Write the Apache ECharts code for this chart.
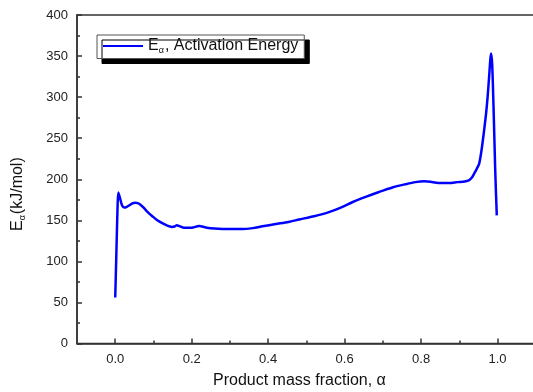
<!DOCTYPE html>
<html>
<head>
<meta charset="utf-8">
<script src="https://cdn.jsdelivr.net/npm/echarts@6/dist/echarts.min.js"></script>
<style>html,body{margin:0;padding:0;background:#fff}#c{width:533px;height:392px}</style>
</head>
<body>
<div id="c"></div>
<script>
// Data
const alpha = [0.000, 0.003, 0.006, 0.008, 0.012, 0.018, 0.024, 0.029, 0.036, 0.045, 0.052, 0.059, 0.066, 0.075, 0.085, 0.097, 0.110, 0.123, 0.136, 0.148, 0.155, 0.161, 0.168, 0.180, 0.200, 0.219, 0.240, 0.260, 0.280, 0.300, 0.332, 0.360, 0.385, 0.420, 0.453, 0.481, 0.520, 0.559, 0.590, 0.620, 0.655, 0.690, 0.725, 0.760, 0.785, 0.808, 0.825, 0.839, 0.856, 0.874, 0.895, 0.910, 0.917, 0.926, 0.933, 0.939, 0.946, 0.952, 0.958, 0.965, 0.970, 0.974, 0.978, 0.981, 0.983, 0.986, 0.990, 0.994, 0.998];
const energy = [56, 110, 165, 184, 178, 168, 165.5, 166, 168, 170.5, 171.5, 171, 169, 165, 160, 155, 150, 146.5, 143.5, 142, 142.5, 144, 143, 141, 141, 143, 141, 140, 139.5, 139.4, 139.4, 140.5, 142.7, 145.5, 148, 151, 155, 160, 165.5, 172, 178.5, 184.5, 190, 194, 196.5, 197.6, 197, 195.8, 195.5, 195.5, 196.5, 197, 197.6, 199, 202, 207, 213, 219, 235, 260, 280, 300, 325, 345, 353, 340, 280, 210, 156];
const seriesName = 'Eα, Activation Energy';
const xMajor = [0, 0.2, 0.4, 0.6, 0.8, 1.0, 1.2];
const xMinor = [0.1, 0.3, 0.5, 0.7, 0.9, 1.1];

const chart = echarts.init(document.getElementById('c'), null, {renderer: 'canvas'});
const FONT = 'Liberation Sans, Arial, sans-serif';
const axisCol = '#333';
const data = alpha.map((a, i) => [a, energy[i]]);

chart.setOption({
  animation: false,
  backgroundColor: '#fff',
  grid: {left: 77, top: 15, width: 497, height: 328.5, outerBoundsMode: 'none', containLabel: false,
    show: true, borderColor: axisCol, borderWidth: 1.5, backgroundColor: 'transparent'},
  legend: {
    show: true,
    left: 97, top: 35,
    orient: 'vertical',
    itemWidth: 40, itemHeight: 14,
    padding: [3, 6, 3, 6],
    backgroundColor: '#fff',
    borderColor: '#555', borderWidth: 1, borderRadius: 0,
    shadowColor: '#000', shadowBlur: 0, shadowOffsetX: 5, shadowOffsetY: 5,
    formatter: function () { return '{e|E}{s|α}{e|, Activation Energy}'; },
    textStyle: {
      fontFamily: FONT, color: '#111',
      rich: {
        e: {fontSize: 16, fontFamily: FONT, color: '#111'},
        s: {fontSize: 9, fontFamily: FONT, color: '#111', padding: [10, 1, 0, 0]}
      }
    },
    data: [{name: seriesName, icon: 'path://M0,0L40,0L40,2L0,2Z'}]
  },
  xAxis: [{
    type: 'value', min: -0.1, max: 1.2,
    axisLine: {show: true, onZero: false, lineStyle: {color: axisCol, width: 1.5}},
    axisTick: {show: true, inside: true, length: 5, customValues: xMajor, lineStyle: {color: axisCol, width: 1.5}},
    axisLabel: {show: true, customValues: xMajor, margin: 9, fontFamily: FONT, fontSize: 13, color: '#222',
      formatter: v => v.toFixed(1)},
    splitLine: {show: false}
  }, {
    type: 'value', min: -0.1, max: 1.2, position: 'bottom',
    axisLine: {show: false, onZero: false},
    axisTick: {show: true, inside: true, length: 3, customValues: xMinor, lineStyle: {color: axisCol, width: 1.5}},
    axisLabel: {show: false},
    splitLine: {show: false}
  }],
  yAxis: {
    type: 'value', min: 0, max: 400, interval: 50,
    axisLine: {show: true, onZero: false, lineStyle: {color: axisCol, width: 1.5}},
    axisTick: {show: true, inside: true, length: 5, lineStyle: {color: axisCol, width: 1.5}},
    minorTick: {show: true, splitNumber: 2, length: 3, lineStyle: {color: axisCol, width: 1.5}},
    axisLabel: {margin: 9, fontFamily: FONT, fontSize: 13, color: '#222'},
    splitLine: {show: false}
  },
  graphic: [{
    type: 'text', left: 213, top: 373,
    style: {text: 'Product mass fraction, α', font: '16px ' + FONT, fill: '#111'}
  }, {
    type: 'text', x: 8, y: 231, rotation: Math.PI / 2,
    style: {
      text: '{e|E}{s|α}{e|(kJ/mol)}', fill: '#111',
      rich: {
        e: {fontSize: 16, fontFamily: FONT, fill: '#111'},
        s: {fontSize: 9, fontFamily: FONT, fill: '#111', padding: [10, 1, 0, 0]}
      }
    }
  }],
  series: [{
    name: seriesName,
    type: 'line',
    xAxisIndex: 0,
    data: data,
    symbol: 'none',
    smooth: 0.25,
    lineStyle: {color: '#0000FF', width: 2.5},
    itemStyle: {color: '#0000FF'}
  }]
});
</script>
</body>
</html>
